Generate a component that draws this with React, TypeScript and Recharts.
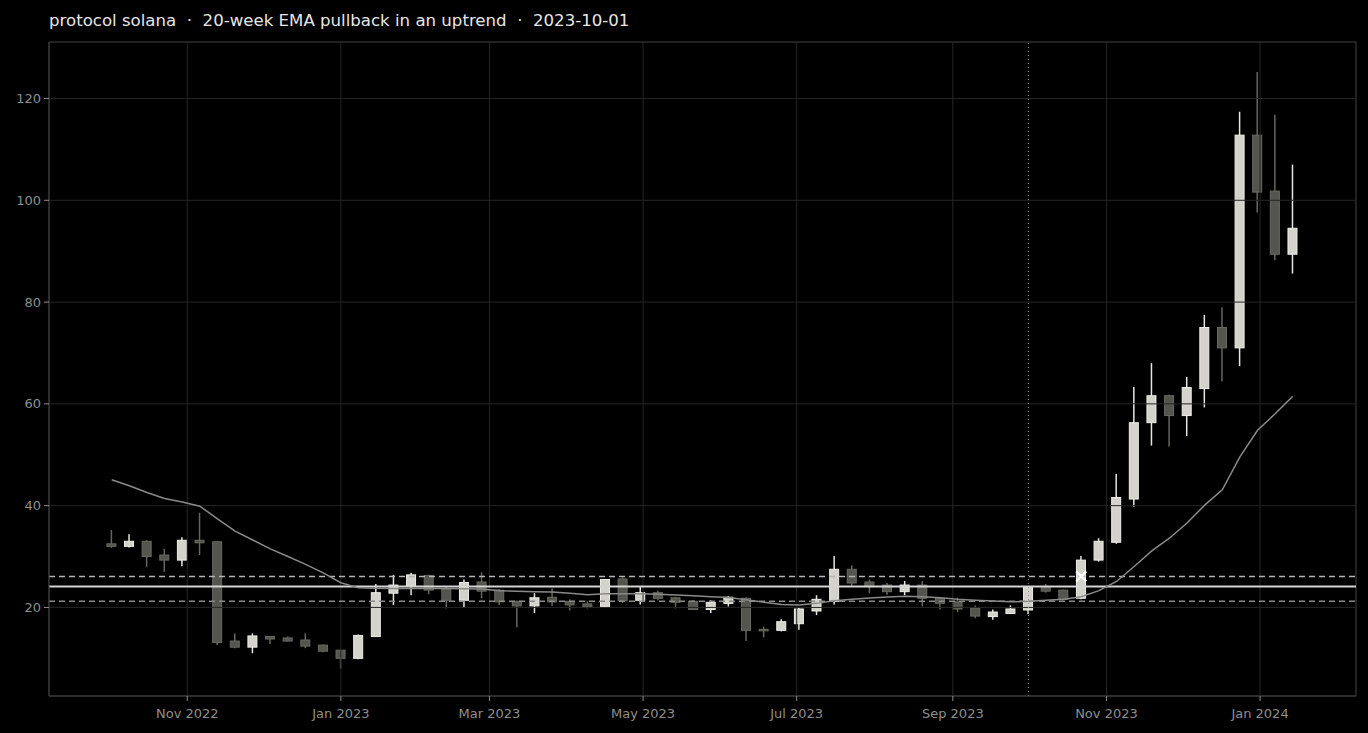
import React from 'react';
import {
  ComposedChart,
  Bar,
  Line,
  XAxis,
  YAxis,
  CartesianGrid,
  ReferenceLine,
  ReferenceArea,
  ReferenceDot,
} from 'recharts';

// weekly candles, labelled by week-end (Sunday)
const weeks = [
  '2022-10-02', '2022-10-09', '2022-10-16', '2022-10-23', '2022-10-30', '2022-11-06', '2022-11-13',
  '2022-11-20', '2022-11-27', '2022-12-04', '2022-12-11', '2022-12-18', '2022-12-25', '2023-01-01',
  '2023-01-08', '2023-01-15', '2023-01-22', '2023-01-29', '2023-02-05', '2023-02-12', '2023-02-19',
  '2023-02-26', '2023-03-05', '2023-03-12', '2023-03-19', '2023-03-26', '2023-04-02', '2023-04-09',
  '2023-04-16', '2023-04-23', '2023-04-30', '2023-05-07', '2023-05-14', '2023-05-21', '2023-05-28',
  '2023-06-04', '2023-06-11', '2023-06-18', '2023-06-25', '2023-07-02', '2023-07-09', '2023-07-16',
  '2023-07-23', '2023-07-30', '2023-08-06', '2023-08-13', '2023-08-20', '2023-08-27', '2023-09-03',
  '2023-09-10', '2023-09-17', '2023-09-24', '2023-10-01', '2023-10-08', '2023-10-15', '2023-10-22',
  '2023-10-29', '2023-11-05', '2023-11-12', '2023-11-19', '2023-11-26', '2023-12-03', '2023-12-10',
  '2023-12-17', '2023-12-24', '2023-12-31', '2024-01-07', '2024-01-14',
];

const opens = [
  32.5, 32.0, 33.0, 30.3, 29.3, 33.2, 32.9, 13.4, 12.2, 14.3, 14.0, 13.6, 12.6, 11.6, 10.0, 14.3,
  22.8, 24.2, 26.3, 23.6, 21.4, 25.0, 23.4, 21.2, 20.3, 22.0, 21.2, 20.7, 20.2, 25.6, 21.4, 22.9,
  21.9, 21.2, 19.6, 20.8, 21.8, 15.7, 15.5, 16.8, 19.3, 21.2, 27.5, 25.0, 24.4, 23.1, 24.4, 21.8,
  21.1, 19.9, 18.2, 18.8, 19.5, 24.1, 23.4, 21.8, 29.3, 32.8, 41.3, 56.3, 61.6, 57.7, 63.0, 75.0,
  71.0, 112.8, 101.8, 89.4,
];
const highs = [
  35.2, 34.4, 33.2, 31.5, 33.8, 38.6, 33.0, 14.9, 14.9, 14.4, 14.3, 14.9, 12.7, 11.7, 14.7, 24.6,
  26.4, 26.8, 26.4, 24.0, 25.5, 26.9, 23.6, 21.3, 22.8, 23.7, 21.6, 21.2, 25.6, 25.9, 24.0, 23.3,
  22.1, 21.4, 21.4, 22.2, 22.0, 16.2, 17.7, 20.0, 22.4, 30.1, 28.3, 25.5, 24.8, 25.2, 25.2, 22.0,
  21.9, 20.4, 19.6, 20.4, 24.1, 24.6, 23.5, 30.1, 33.6, 46.2, 63.3, 68.0, 61.8, 65.3, 77.5, 79.0,
  117.4, 125.2, 116.8, 107.0,
];
const lows = [
  31.7, 31.8, 28.0, 27.0, 28.1, 30.3, 12.6, 12.0, 11.0, 12.8, 13.3, 12.0, 11.2, 8.0, 9.8, 14.2,
  20.5, 22.4, 22.6, 19.8, 19.9, 21.8, 20.5, 16.1, 18.9, 20.3, 19.4, 19.8, 20.0, 20.9, 20.6, 21.4,
  19.8, 19.5, 18.9, 20.2, 13.4, 14.1, 15.3, 15.6, 18.5, 20.6, 24.2, 22.8, 22.5, 22.4, 20.2, 19.6,
  19.1, 17.9, 17.6, 18.7, 18.7, 22.9, 21.4, 21.6, 29.0, 32.5, 39.8, 51.8, 51.6, 53.7, 59.3, 64.4,
  67.4, 97.6, 88.2, 85.6,
];
const closes = [
  32.0, 33.0, 30.0, 29.3, 33.2, 32.7, 13.1, 12.2, 14.4, 13.8, 13.4, 12.4, 11.4, 10.0, 14.5, 22.9,
  24.4, 26.4, 23.4, 21.4, 24.9, 23.2, 21.1, 20.3, 21.9, 21.1, 20.5, 20.1, 25.5, 21.3, 22.9, 21.8,
  21.0, 19.6, 21.0, 22.0, 15.5, 15.5, 17.2, 19.7, 21.6, 27.5, 24.8, 24.1, 23.1, 24.4, 21.8, 20.8,
  19.7, 18.3, 19.1, 19.7, 24.0, 23.2, 21.6, 29.3, 33.0, 41.6, 56.3, 61.6, 57.7, 63.2, 75.0, 71.0,
  112.8, 101.6, 89.4, 94.5,
];
const ema20 = [
  45.1, 43.9, 42.6, 41.4, 40.7, 39.9, 37.4, 35.0, 33.25, 31.5, 30.0, 28.45, 26.8, 24.85, 23.85, 23.75,
  23.7, 23.7, 23.7, 23.7, 23.65, 23.6, 23.3, 23.2, 23.1, 23.05, 22.8, 22.5, 22.7, 22.7, 22.7, 22.6,
  22.45, 22.3, 22.1, 21.95, 21.5, 21.0, 20.6, 20.5, 20.8, 21.3, 21.6, 21.85, 22.05, 22.2, 22.1, 21.9,
  21.6, 21.4, 21.25, 21.1, 21.2, 21.4, 21.6, 22.1, 23.3, 25.1, 28.05, 31.1, 33.6, 36.6, 40.1, 43.1,
  49.6, 54.8, 58.05, 61.5,
];

const levelUpper = 26.1;
const levelMid = 24.1;
const levelLower = 21.2;
const signalDate = '2023-10-01';
const breakoutWeek = '2023-10-22';
const breakoutPrice = 26.1;

const yTicks = [20, 40, 60, 80, 100, 120];
const xTickDates = [
  '2022-11-01', '2023-01-01', '2023-03-01', '2023-05-01',
  '2023-07-01', '2023-09-01', '2023-11-01', '2024-01-01',
];
const monthNames = ['Jan', 'Feb', 'Mar', 'Apr', 'May', 'Jun', 'Jul', 'Aug', 'Sep', 'Oct', 'Nov', 'Dec'];

const DAY = 86400000;
const toT = (s: string) => Date.parse(s + 'T00:00:00Z');

const data = weeks.map((w, i) => ({
  t: toT(w),
  open: opens[i],
  high: highs[i],
  low: lows[i],
  close: closes[i],
  ema: ema20[i],
}));

const xDomain = [toT('2022-11-01') - 54.9 * DAY, toT('2024-01-01') + 38.1 * DAY];
const yDomain = [2.6, 131.1];

const fmtDate = (t: number) => {
  const d = new Date(t);
  return `${monthNames[d.getUTCMonth()]} ${d.getUTCFullYear()}`;
};

const Candle = (props: any) => {
  const { x, y, width, height, payload } = props;
  if (!payload) return null;
  const { open, close, high, low } = payload;
  const up = close >= open;
  const top = Math.min(y, y + height);
  const h = Math.abs(height);
  const span = high - low || 1;
  const py = (v: number) => top + ((high - v) / span) * h;
  const cx = x + width / 2;
  const bTop = py(Math.max(open, close));
  const bBot = py(Math.min(open, close));
  return (
    <g>
      <line x1={cx} x2={cx} y1={top} y2={top + h} stroke={up ? '#e6e6e0' : '#66665f'} strokeWidth={1.5} />
      <rect
        x={x}
        y={bTop}
        width={width}
        height={Math.max(bBot - bTop, 1.5)}
        fill={up ? '#d3d3cb' : '#55554f'}
        stroke={up ? '#eeeee8' : '#6a6a63'}
        strokeWidth={1}
      />
    </g>
  );
};

const CrossMark = (props: any) => {
  const { cx, cy } = props;
  const r = 5;
  return (
    <g stroke="#ffffff" strokeWidth={2.2}>
      <line x1={cx - r} y1={cy - r} x2={cx + r} y2={cy + r} />
      <line x1={cx - r} y1={cy + r} x2={cx + r} y2={cy - r} />
    </g>
  );
};

const tickStyle = { fill: '#8e8e8e', fontSize: 13, fontFamily: 'DejaVu Sans' };

export default function App() {
  return (
    <div style={{ position: 'relative', width: 1368, height: 733, background: '#000' }}>
      <style>{`body{margin:0;background:#000}`}</style>
      <div
        style={{
          position: 'absolute',
          left: 49,
          top: 11,
          color: '#e6e6e6',
          fontSize: 16.6,
          fontFamily: 'DejaVu Sans',
          whiteSpace: 'pre',
        }}
      >
        {'protocol solana  ·  20-week EMA pullback in an uptrend  ·  2023-10-01'}
      </div>
      <ComposedChart
        width={1368}
        height={733}
        data={data}
        margin={{ top: 42, right: 12, bottom: 0, left: 0 }}
      >
        <XAxis
          dataKey="t"
          type="number"
          scale="time"
          domain={xDomain}
          ticks={xTickDates.map(toT)}
          tickFormatter={fmtDate}
          tick={tickStyle}
          tickSize={5}
          tickMargin={8}
          tickLine={{ stroke: '#8e8e8e' }}
          axisLine={{ stroke: '#3a3a3a' }}
          height={37}
          allowDataOverflow
        />
        <YAxis
          type="number"
          domain={yDomain}
          ticks={yTicks}
          tick={tickStyle}
          tickSize={5}
          tickMargin={3}
          tickLine={{ stroke: '#8e8e8e' }}
          axisLine={{ stroke: '#3a3a3a' }}
          width={49}
          allowDataOverflow
        />
        <Bar
          dataKey={(d: any) => [d.low, d.high]}
          barSize={9}
          shape={Candle}
          isAnimationActive={false}
        />
        <CartesianGrid stroke="#262626" strokeWidth={1} zIndex={350} />
        <ReferenceArea
          x1={xDomain[0]}
          x2={xDomain[1]}
          y1={yDomain[0]}
          y2={yDomain[1]}
          fill="none"
          stroke="#3a3a3a"
        />
        <ReferenceLine y={levelUpper} stroke="#b4b4b4" strokeWidth={1.5} strokeDasharray="6 4" />
        <ReferenceLine y={levelMid} stroke="#d4d4d4" strokeWidth={2} />
        <ReferenceLine y={levelLower} stroke="#8a8a8a" strokeWidth={1.5} strokeDasharray="6 4" />
        <ReferenceLine x={toT(signalDate)} stroke="#9a9a9a" strokeWidth={1} strokeDasharray="1 3" />
        <Line
          dataKey="ema"
          type="linear"
          stroke="#8a8a8a"
          strokeWidth={1.5}
          dot={false}
          isAnimationActive={false}
        />
        <ReferenceDot x={toT(breakoutWeek)} y={breakoutPrice} shape={CrossMark} />
      </ComposedChart>
    </div>
  );
}
